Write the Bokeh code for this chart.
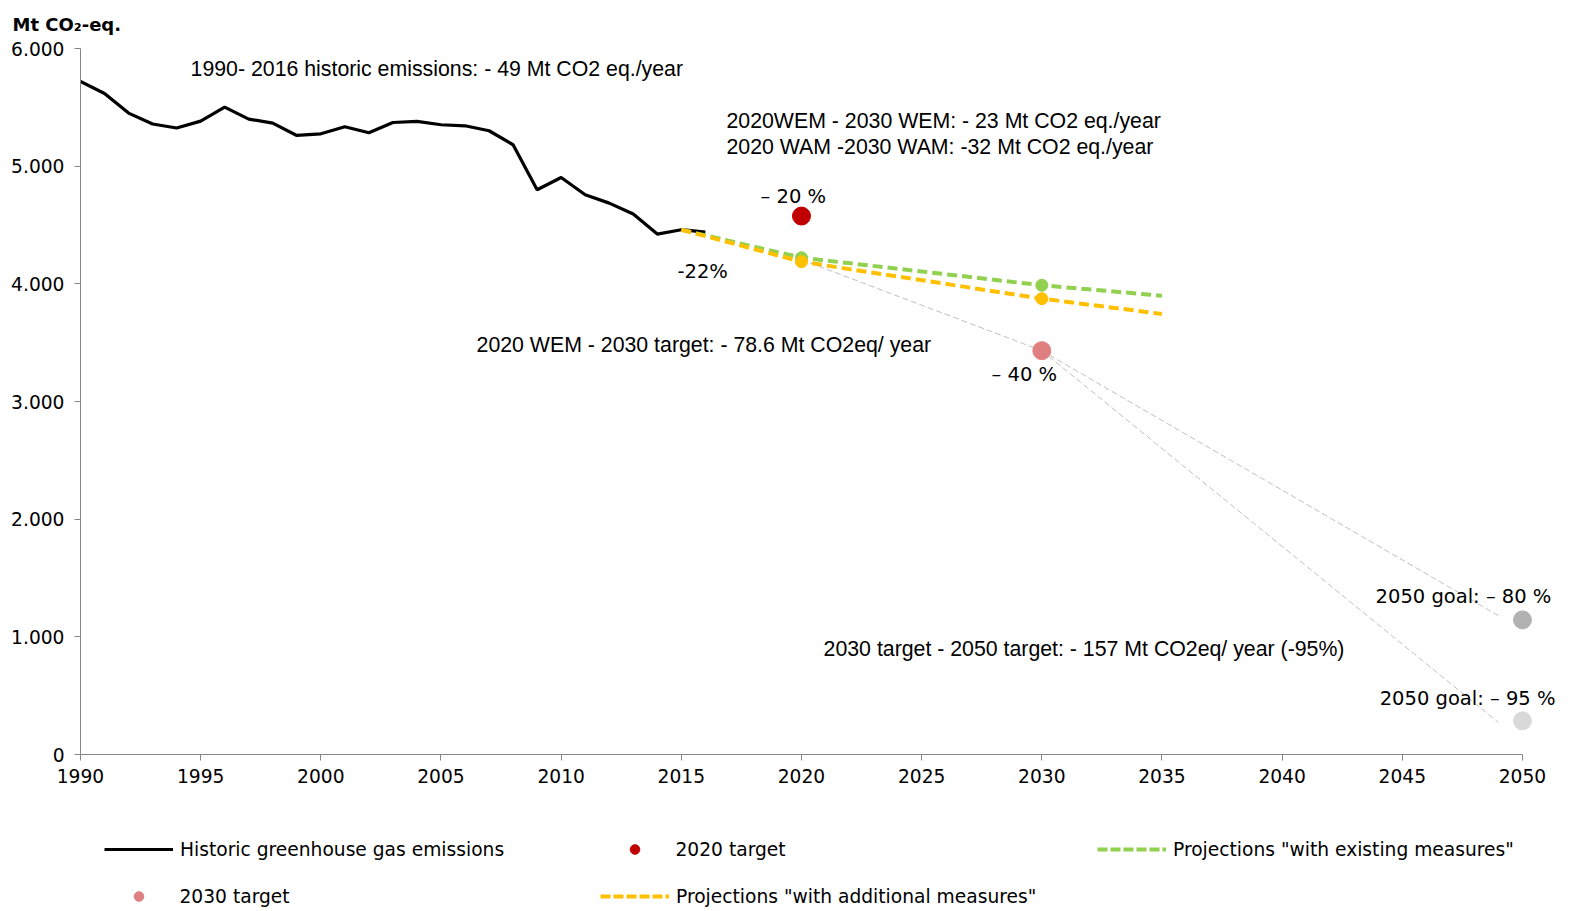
from bokeh.plotting import figure
from bokeh.models import Range1d, FixedTicker, Label, Legend, LegendItem, Title
from bokeh.layouts import column
from bokeh.embed import file_html
from bokeh.resources import INLINE

# ---- data ----
hist_years = list(range(1990, 2017))
hist_values = [5720, 5618, 5451, 5358, 5324, 5383, 5502, 5400, 5366, 5261,
               5275, 5335, 5284, 5371, 5380, 5352, 5343, 5301, 5182, 4800,
               4904, 4757, 4686, 4593, 4423, 4460, 4440]
proj_years = [2015, 2020, 2030, 2035]
wem_values = [4460, 4222, 3988, 3899]
wam_values = [4460, 4188, 3874, 3744]
proj_marker_years = [2020, 2030]
wem_markers = [4222, 3988]
wam_markers = [4188, 3874]
target2020_year = [2020]
target2020_value = [4576]
target2030_year = [2030]
target2030_value = [3432]
goal2050_year = [2050]
goal80_value = [1144]
goal95_value = [286]
guide1_x = [2020, 2030]
guide1_y = [4205, 3432]
guide2_x = [2030, 2049]
guide2_y = [3432, 1180]
guide3_x = [2030, 2049]
guide3_y = [3432, 272]
x_ticks = list(range(1990, 2051, 5))
y_ticks = [0, 1000, 2000, 3000, 4000, 5000, 6000]
y_tick_labels = ["0", "1.000", "2.000", "3.000", "4.000", "5.000", "6.000"]

GREEN = "#92D050"
YELLOW = "#FFC000"
RED = "#C00000"
PINK = "#E07F7F"
AXIS = "#868686"
VERD = "DejaVu Sans"
ARIAL = "Liberation Sans"
VS = "18.67px"
PS = "19.5px"
AS = "21.3px"
W = 1569
MAIN_H = 796
LEG_H = 911 - MAIN_H
FRAME_LEFT = 80

p = figure(width=W, height=MAIN_H, output_backend="svg", toolbar_location=None,
           x_range=Range1d(1990, 2051.5), y_range=Range1d(0, 6000),
           min_border_left=FRAME_LEFT, min_border_right=11, min_border_top=48,
           min_border_bottom=42)
p.outline_line_color = None
p.xgrid.visible = False
p.ygrid.visible = False
p.title = Title(text="Mt CO₂-eq.", align="left", vertical_align="top", offset=-68,
                text_font=VERD, text_font_size="18px", text_font_style="bold",
                text_color="black", standoff=24)

for ax in (p.xaxis[0], p.yaxis[0]):
    ax.axis_line_color = AXIS
    ax.major_tick_line_color = AXIS
    ax.minor_tick_line_color = None
    ax.major_tick_in = 0
    ax.major_tick_out = 6
    ax.major_label_text_font = VERD
    ax.major_label_text_font_size = VS
    ax.major_label_text_color = "black"

p.xaxis[0].ticker = FixedTicker(ticks=x_ticks)
p.xaxis[0].bounds = (1990, 2050)
p.xaxis[0].major_label_standoff = 8
p.yaxis[0].ticker = FixedTicker(ticks=y_ticks)
p.yaxis[0].major_label_overrides = {t: l for t, l in zip(y_ticks, y_tick_labels)}
p.yaxis[0].major_label_standoff = 10

# guides
for gx, gy in ((guide1_x, guide1_y), (guide2_x, guide2_y), (guide3_x, guide3_y)):
    p.line(gx, gy, line_color="#C0C0C0", line_width=1, line_dash="6 3")

p.line(hist_years, hist_values, line_color="black", line_width=3.2)
p.line(proj_years, wem_values, line_color=GREEN, line_width=4, line_dash="10 5")
p.line(proj_years, wam_values, line_color=YELLOW, line_width=4, line_dash="10 5")
p.scatter(proj_marker_years, wem_markers, size=12, color=GREEN)
p.scatter(proj_marker_years, wam_markers, size=12, color=YELLOW)
p.scatter(target2020_year, target2020_value, size=18, color=RED)
p.scatter(target2030_year, target2030_value, size=18, color=PINK)
p.scatter(goal2050_year, goal80_value, size=18, color="#B2B2B2")
p.scatter(goal2050_year, goal95_value, size=18, color="#D9D9D9")

def lab(x, y, text, font, size):
    p.add_layout(Label(x=x, y=y, text=text, text_font=font, text_font_size=size,
                       text_baseline="middle", text_align="left", text_color="black"))

lab(1994.58, 5827, "1990- 2016 historic emissions: - 49 Mt CO2 eq./year", ARIAL, AS)
lab(2016.88, 5386, "2020WEM - 2030 WEM: - 23 Mt CO2 eq./year", ARIAL, AS)
lab(2016.88, 5165, "2020 WAM -2030 WAM: -32 Mt CO2 eq./year", ARIAL, AS)
lab(2018.30, 4740, "– 20 %", VERD, PS)
lab(2014.84, 4103, "-22%", VERD, PS)
lab(2006.48, 3483, "2020 WEM - 2030 target: - 78.6 Mt CO2eq/ year", ARIAL, AS)
lab(2027.91, 3228, "– 40 %", VERD, PS)
lab(2020.92, 900, "2030 target - 2050 target: - 157 Mt CO2eq/ year (-95%)", ARIAL, AS)
lab(2043.89, 1342, "2050 goal: – 80 %", VERD, PS)
lab(2044.06, 476, "2050 goal: – 95 %", VERD, PS)

# ---- legend strip (its frame is aligned with the main frame by the column) ----
q = figure(width=W, height=LEG_H, output_backend="svg", toolbar_location=None,
           x_range=Range1d(0, 1), y_range=Range1d(0, 1),
           x_axis_location=None, y_axis_location=None,
           min_border_left=0, min_border_right=0, min_border_top=0, min_border_bottom=0)
q.xgrid.visible = False
q.ygrid.visible = False
q.outline_line_color = None

off = [-5, -4]  # legend-only renderers, kept outside the visible range
l_hist = q.line(off, off, line_color="black", line_width=3.2)
l_t20 = q.scatter(off, off, color=RED)
l_wem = q.line(off, off, line_color=GREEN, line_width=4, line_dash="10 3")
l_t30 = q.scatter(off, off, color=PINK)
l_wam = q.line(off, off, line_color=YELLOW, line_width=4, line_dash="10 3")

GH = 24
def leg(renderer, text, x_page, center_from_top):
    vy = (LEG_H - center_from_top) - GH / 2
    L = Legend(items=[LegendItem(label=text, renderers=[renderer])],
               location=(x_page - FRAME_LEFT, vy),
               glyph_width=69, glyph_height=GH, label_standoff=7, padding=0, margin=0,
               spacing=0, label_text_font=VERD, label_text_font_size=VS,
               label_height=GH, border_line_alpha=0, background_fill_alpha=0,
               label_text_color="black", label_text_baseline="middle")
    q.add_layout(L, "center")

row1 = 849 - MAIN_H
row2 = 896 - MAIN_H
leg(l_hist, "Historic greenhouse gas emissions", 104, row1)
leg(l_t20, "2020 target", 599.5, row1)
leg(l_wem, 'Projections "with existing measures"', 1097, row1)
leg(l_t30, "2030 target", 103.5, row2)
leg(l_wam, 'Projections "with additional measures"', 600, row2)

layout = column(p, q, spacing=0)
open("out.html", "w").write(file_html(layout, INLINE))
